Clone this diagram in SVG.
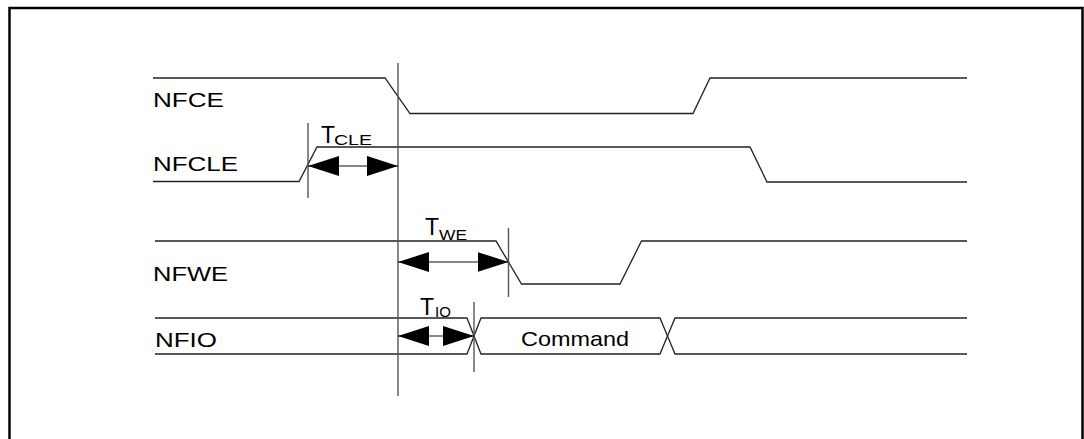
<svg xmlns="http://www.w3.org/2000/svg" width="1084" height="439" viewBox="0 0 1084 439">
  <style>
    .frame { fill: none; stroke: #000; stroke-width: 2.5; }
    .sig { fill: none; stroke: #222; stroke-width: 1.3; stroke-linejoin: miter; }
    .ref { fill: none; stroke: #555; stroke-width: 1.4; }
    .dim { fill: none; stroke: #111; stroke-width: 1.2; marker-start: url(#ah); marker-end: url(#ah); }
    .lbl { font-family: "Liberation Sans", Arial, sans-serif; font-size: 21px; fill: #000; }
    .tt { font-family: "Liberation Sans", Arial, sans-serif; font-size: 23px; fill: #000; }
    .sub { font-family: "Liberation Sans", Arial, sans-serif; font-size: 15px; fill: #000; }
  </style>
  <defs>
    <marker id="ah" markerUnits="userSpaceOnUse" markerWidth="31" markerHeight="20" refX="31" refY="10" orient="auto-start-reverse">
      <path d="M0,0 L31,10 L0,20 Z" fill="#000"/>
    </marker>
  </defs>
  <rect class="frame" x="9.5" y="8" width="1073" height="445"/>

  <g id="nfce">
    <text class="lbl" x="153" y="107" textLength="71" lengthAdjust="spacingAndGlyphs">NFCE</text>
    <polyline class="sig" points="153,78 385,78 410,113.5 693,113.5 710,78 967,78"/>
  </g>
  <g id="nfcle">
    <text class="lbl" x="153" y="171" textLength="85" lengthAdjust="spacingAndGlyphs">NFCLE</text>
    <polyline class="sig" points="153,181.5 299,181.5 317,147 750,147 767,182 967,182"/>
  </g>
  <g id="nfwe">
    <text class="lbl" x="153" y="281" textLength="75" lengthAdjust="spacingAndGlyphs">NFWE</text>
    <polyline class="sig" points="155,241 496,241 521.5,284 620,284 641.5,241 967,241"/>
  </g>
  <g id="nfio">
    <text class="lbl" x="155" y="347" textLength="62" lengthAdjust="spacingAndGlyphs">NFIO</text>
    <polyline class="sig" points="155,318 467,318 474,336 467,354 155,354"/>
    <polygon class="sig" points="474,336 481,318 660,318 667.5,336 660,354 481,354"/>
    <polyline class="sig" points="967,318 675,318 667.5,336 675,354 967,354"/>
    <text class="lbl" x="521" y="346" textLength="108" lengthAdjust="spacingAndGlyphs">Command</text>
  </g>

  <g id="timing-refs">
    <line class="ref" x1="398" y1="63" x2="398" y2="396"/>
    <line class="ref" x1="308" y1="123" x2="308" y2="198"/>
    <line class="ref" x1="508.5" y1="228" x2="508.5" y2="297"/>
    <line class="ref" x1="474" y1="302" x2="474" y2="372"/>
  </g>

  <g id="connectors">
    <line class="dim" x1="308" y1="166" x2="398" y2="166"/>
    <line class="dim" x1="398" y1="262" x2="508.5" y2="262"/>
    <line class="dim" x1="398" y1="336" x2="474" y2="336"/>
  </g>

  <g id="t-cle">
    <text class="tt" x="321" y="143">T</text>
    <text class="sub" x="334" y="145" textLength="38" lengthAdjust="spacingAndGlyphs">CLE</text>
  </g>
  <g id="t-we">
    <text class="tt" x="425" y="235">T</text>
    <text class="sub" x="439" y="240" textLength="28" lengthAdjust="spacingAndGlyphs">WE</text>
  </g>
  <g id="t-io">
    <text class="tt" x="420" y="315">T</text>
    <text class="sub" x="435" y="317">IO</text>
  </g>
</svg>
